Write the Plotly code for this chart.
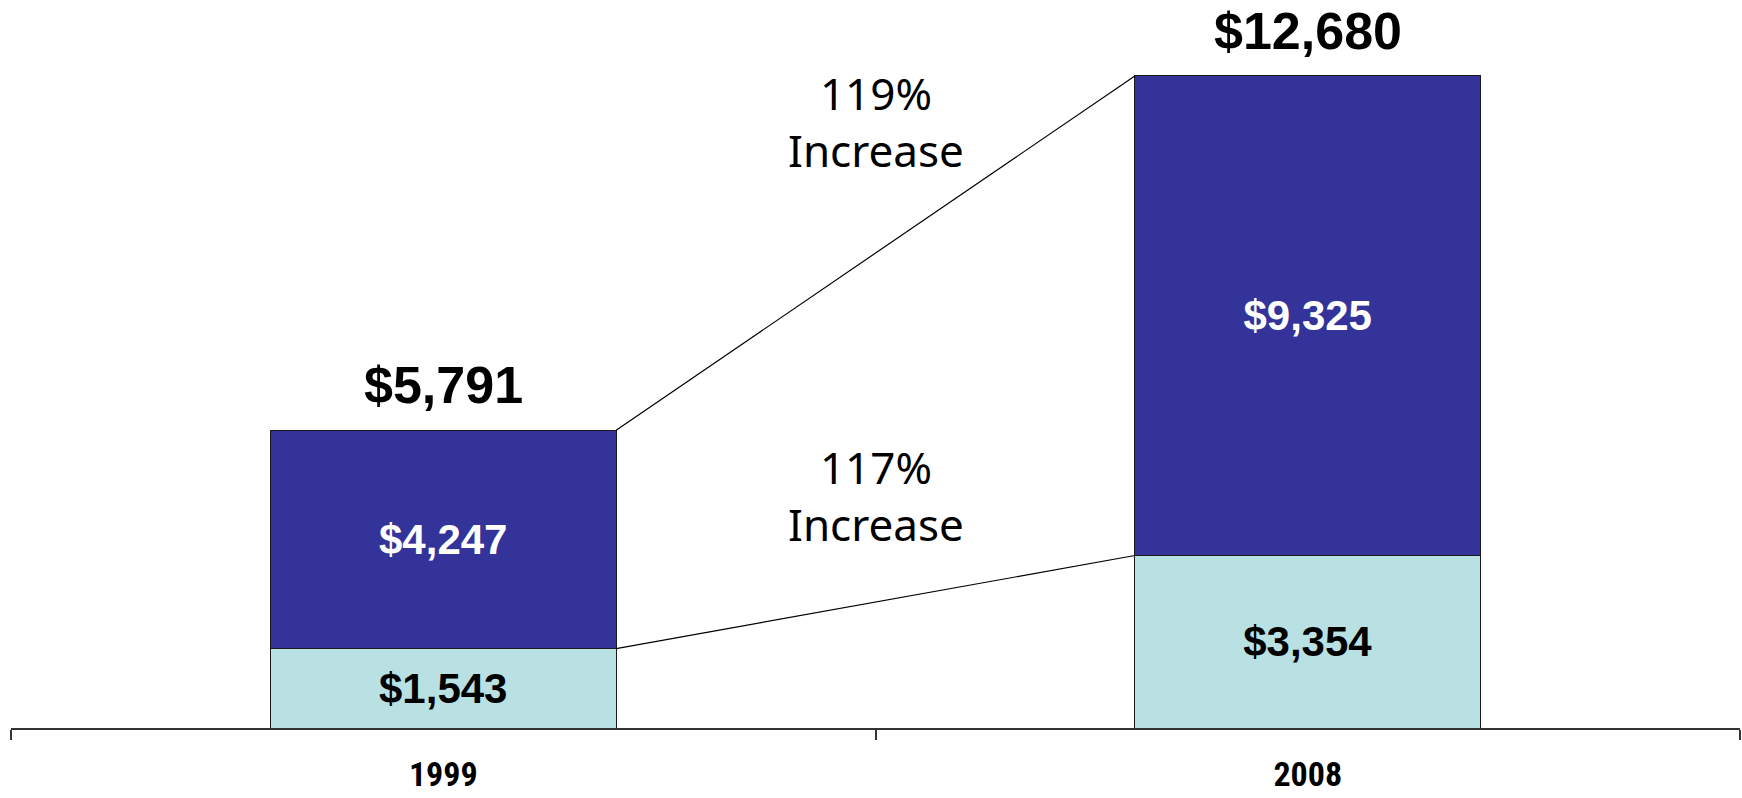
import plotly.graph_objects as go

years = ["1999", "2008"]
lower_values = [1543, 3354]      # light segment
upper_values = [4247, 9325]      # dark segment
totals = [5791, 12680]
increase_pct = [117, 119]        # lower segment, total

dark = "#333399"
light = "#B9E0E3"
bar_width = 0.4

def money(v):
    return "${:,}".format(v)

fig = go.Figure()

fig.add_trace(go.Bar(
    x=years, y=lower_values, width=bar_width,
    marker=dict(color=light, line=dict(color="#1a1a1a", width=1)),
    text=[money(v) for v in lower_values], textposition="inside",
    insidetextanchor="middle", textangle=0, constraintext="none",
    textfont=dict(family="Liberation Sans, Arial, sans-serif", size=42, color="#000000", weight="bold"),
    hoverinfo="skip",
))
fig.add_trace(go.Bar(
    x=years, y=upper_values, width=bar_width,
    marker=dict(color=dark, line=dict(color="#1a1a1a", width=1)),
    text=[money(v) for v in upper_values], textposition="inside",
    insidetextanchor="middle", textangle=0, constraintext="none",
    textfont=dict(family="Liberation Sans, Arial, sans-serif", size=42, color="#FFFFFF", weight="bold"),
    hoverinfo="skip",
))

# connector lines from the 1999 bar's right edge to the 2008 bar's left edge
lower_tops = lower_values
stack_tops = [lower_values[i] + upper_values[i] for i in range(2)]
for tops in (lower_tops, stack_tops):
    fig.add_trace(go.Scatter(
        x=[0 + bar_width / 2, 1 - bar_width / 2], y=tops,
        xaxis="x2", mode="lines",
        line=dict(color="#000000", width=1.2),
        hoverinfo="skip", showlegend=False,
    ))

annotations = []
for i in range(len(years)):
    annotations.append(dict(
        x=i, y=stack_tops[i], xref="x2", yref="y",
        text=money(totals[i]), showarrow=False,
        yanchor="middle", yshift=45,
        font=dict(family="Liberation Sans, Arial, sans-serif", size=52, color="#000000", weight="bold"),
    ))

# increase labels between the bars
pct_positions = [4530, 11800]
for pct, ypos in zip(increase_pct, pct_positions):
    annotations.append(dict(
        x=0.5, y=ypos, xref="x2", yref="y",
        text=f"{pct}%<br>Increase", showarrow=False,
        align="center", yanchor="middle",
        font=dict(family="Noto Sans, sans-serif", size=44, color="#000000"),
    ))

fig.update_layout(
    barmode="stack",
    width=1742, height=798,
    margin=dict(l=11, r=2, t=8, b=70),
    plot_bgcolor="#FFFFFF", paper_bgcolor="#FFFFFF",
    showlegend=False,
    annotations=annotations,
    xaxis=dict(
        type="category", range=[-0.5, 1.5],
        showline=True, linecolor="#333333", linewidth=2,
        ticks="outside", tickson="boundaries", ticklen=10, tickwidth=2, tickcolor="#333333",
        ticklabelstandoff=15,
        tickfont=dict(family="Liberation Sans Narrow, Roboto Condensed, Liberation Sans, sans-serif",
                      size=34, color="#000000", weight="bold"),
        showgrid=False, zeroline=False, automargin=False,
    ),
    xaxis2=dict(
        overlaying="x", range=[-0.5, 1.5], visible=False,
    ),
    yaxis=dict(range=[0, 14000], visible=False, showgrid=False, zeroline=False),
)

fig.write_html("out.html")
